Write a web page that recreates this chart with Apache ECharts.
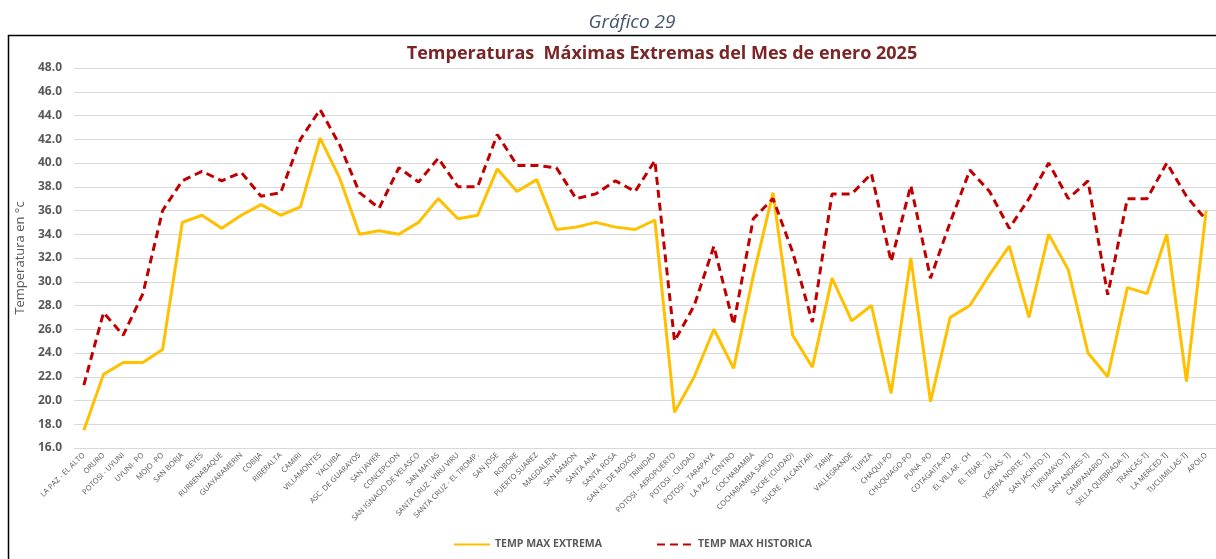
<!doctype html>
<html>
	<head>
		<meta charset="utf-8">
		<title>Gráfico 29</title>
		<script src="https://cdn.jsdelivr.net/npm/echarts@6/dist/echarts.min.js"></script>
		<style>
			html, body { margin: 0; padding: 0; background: #fff; }
			#main { width: 1216px; height: 559px; }
		</style>
	</head>
	<body>
		<div id="main"></div>
		<script type="text/javascript">
			// estaciones
			var estaciones = ['LA PAZ - EL ALTO', 'ORURO', 'POTOSI - UYUNI', 'UYUNI- PO', 'MOJO -PO', 'SAN BORJA', 'REYES',
				'RURRENABAQUE', 'GUAYARAMERIN', 'COBIJA', 'RIBERALTA', 'CAMIRI', 'VILLAMONTES', 'YACUIBA', 'ASC. DE GUARAYOS',
				'SAN JAVIER', 'CONCEPCION', 'SAN IGNACIO DE VELASCO', 'SAN MATIAS', 'SANTA CRUZ - VIRU VIRU',
				'SANTA CRUZ - EL TROMP.', 'SAN JOSE', 'ROBORE', 'PUERTO SUAREZ', 'MAGDALENA', 'SAN RAMON', 'SANTA ANA',
				'SANTA ROSA', 'SAN IG. DE MOXOS', 'TRINIDAD', 'POTOSI - AEROPUERTO', 'POTOSI - CIUDAD', 'POTOSI - TARAPAYA',
				'LA PAZ - CENTRO', 'COCHABAMBA', 'COCHABAMBA SARCO', 'SUCRE (CIUDAD)', 'SUCRE - ALCANTARI', 'TARIJA',
				'VALLEGRANDE', 'TUPIZA', 'CHAQUI-PO', 'CHUQUIAGO-PO', 'PUNA -PO', 'COTAGAITA-PO', 'EL VILLAR - CH',
				'EL TEJAR - TJ', 'CAÑAS- TJ', 'YESERA NORTE- TJ', 'SAN JACINTO-TJ', 'TURUMAYO-TJ', 'SAN ANDRES-TJ',
				'CAMPANARIO-TJ', 'SELLA QUEBRADA-TJ', 'TRANCAS-TJ', 'LA MERCED-TJ', 'TUCUMILLAS-TJ', 'APOLO'];

			// temp max extrema (enero 2025)
			var tempExtrema = [17.5, 22.2, 23.2, 23.2, 24.3, 35.0, 35.6, 34.5, 35.6, 36.5, 35.6, 36.3, 42.1, 38.7, 34.0,
				34.3, 34.0, 35.0, 37.0, 35.3, 35.6, 39.5, 37.6, 38.6, 34.4, 34.6, 35.0, 34.6, 34.4, 35.2,
				19.0, 22.0, 26.0, 22.7, 30.5, 37.5, 25.5, 22.8, 30.3, 26.7, 28.0, 20.6, 32.0, 19.9, 27.0,
				28.0, 30.6, 33.0, 27.0, 34.0, 31.0, 24.0, 22.0, 29.5, 29.0, 34.0, 21.6, 36.0];

			// temp max historica
			var tempHistorica = [21.3, 27.4, 25.5, 29.0, 36.0, 38.5, 39.3, 38.5, 39.2, 37.2, 37.5, 42.0, 44.5, 41.5, 37.5,
				36.2, 39.6, 38.4, 40.4, 38.0, 38.0, 42.4, 39.8, 39.8, 39.6, 37.0, 37.4, 38.5, 37.6, 40.2,
				25.0, 28.0, 33.0, 26.4, 35.3, 37.0, 32.5, 26.6, 37.4, 37.4, 39.1, 31.7, 38.1, 30.3, 35.0,
				39.4, 37.6, 34.5, 37.0, 40.0, 37.0, 38.5, 28.9, 37.0, 37.0, 40.0, 37.2, 35.2];

			var yMin = 16, yMax = 48, yStep = 2;

			var chart = echarts.init(document.getElementById('main'));
			chart.setOption({
				backgroundColor: '#fff',
				animation: false,
				title: [{
					text: 'Gráfico 29',
					left: 627,
					textAlign: 'center',
					top: 8,
					textStyle: { fontFamily: 'Open Sans', fontStyle: 'italic', fontWeight: 'normal', fontSize: 19, color: '#44546a' }
				}, {
					text: 'Temperaturas  Máximas Extremas del Mes de enero 2025',
					left: 657,
					textAlign: 'center',
					top: 40,
					textStyle: { fontFamily: 'Open Sans', fontWeight: 'bold', fontSize: 18, color: '#7b2626' }
				}],
				graphic: [{
					type: 'rect',
					shape: { x: 8.5, y: 35.5, width: 1230, height: 540 },
					style: { fill: 'none', stroke: '#000', lineWidth: 1.5 },
					silent: true
				}],
				legend: {
					bottom: 4,
					left: 448,
					itemGap: 54,
					itemWidth: 36,
					itemHeight: 10,
					itemStyle: { opacity: 0 },
					textStyle: { fontFamily: 'Open Sans', fontWeight: 'bold', fontSize: 10.5, color: '#595959' },
					data: ['TEMP MAX EXTREMA', 'TEMP MAX HISTORICA']
				},
				grid: {
					left: 74,
					right: -6,
					top: 68,
					height: 380
				},
				xAxis: {
					type: 'category',
					boundaryGap: true,
					data: estaciones,
					axisLine: { show: true, lineStyle: { color: '#d9d9d9' } },
					axisTick: { show: false },
					axisLabel: {
						interval: 0,
						rotate: 45,
						fontFamily: 'Open Sans',
						fontSize: 7.5,
						color: '#595959',
						margin: 6
					}
				},
				yAxis: {
					type: 'value',
					min: yMin,
					max: yMax,
					interval: yStep,
					name: 'Temperatura en °c',
					nameLocation: 'middle',
					nameGap: 45,
					nameTextStyle: { fontFamily: 'Open Sans', fontSize: 13, color: '#595959' },
					axisLine: { show: false },
					axisTick: { show: false },
					axisLabel: {
						fontFamily: 'Open Sans',
						fontWeight: 'bold',
						fontSize: 12,
						color: '#595959',
						margin: 12,
						formatter: function (v) { return v.toFixed(1); }
					},
					splitLine: { lineStyle: { color: '#d9d9d9', width: 1 } }
				},
				series: [{
					name: 'TEMP MAX EXTREMA',
					type: 'line',
					data: tempExtrema,
					symbol: 'none',
					lineStyle: { color: '#ffc000', width: 3 },
					itemStyle: { color: '#ffc000' }
				}, {
					name: 'TEMP MAX HISTORICA',
					type: 'line',
					data: tempHistorica,
					symbol: 'none',
					lineStyle: { color: '#c00000', width: 3, type: [8, 5] },
					itemStyle: { color: '#c00000' }
				}]
			});
		</script>
	</body>
</html>
